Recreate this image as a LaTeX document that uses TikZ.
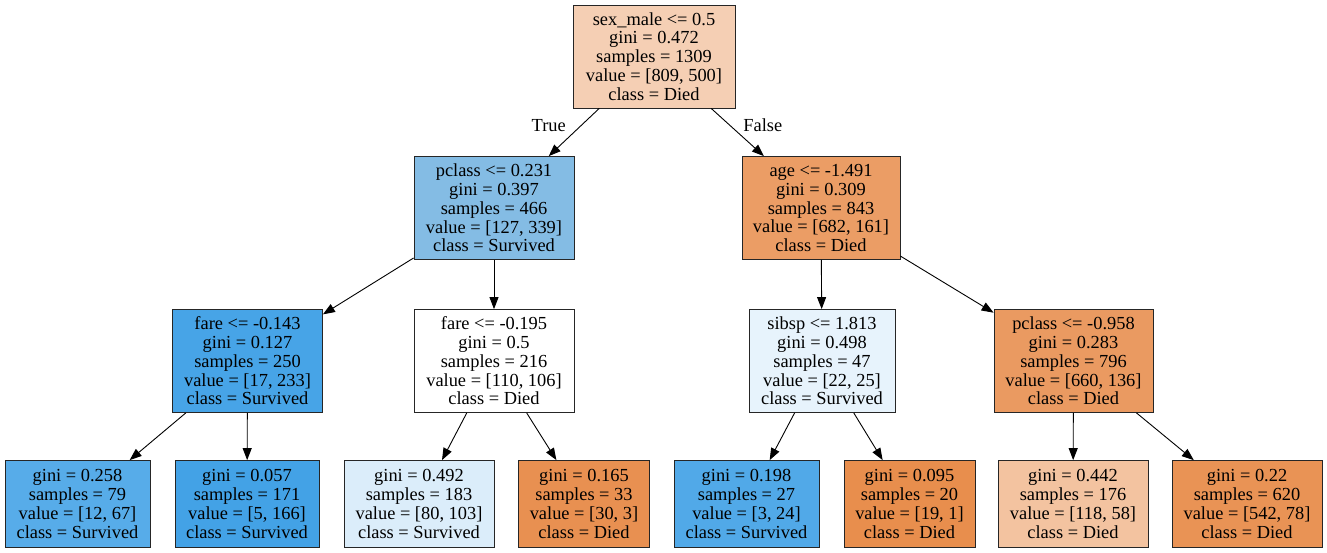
\documentclass[tikz,border=0pt]{standalone}
\usepackage{fontspec}
\setmainfont{Liberation Serif}
\usetikzlibrary{arrows.meta}

\definecolor{died}{RGB}{229,129,57}
\definecolor{surv}{RGB}{57,157,229}

\begin{document}
\begin{tikzpicture}[
    x=1pt, y=-1pt,
    split/.style={rectangle, draw=black!85, line width=0.8pt, align=center, minimum height=103pt, inner ysep=0pt, font=\fontsize{18.4}{18.8}\selectfont},
    leaf/.style={split, minimum height=87pt},
    arrow/.style={line width=0.9pt, -{Triangle[length=12pt,width=9pt]}},
    edgelabel/.style={font=\fontsize{18.4}{18.8}\selectfont}
]
\path[fill=white, use as bounding box] (0,0) rectangle (1327,552);

% Root
\node[split, fill=died!38, minimum width=162pt] (root) at (654,56.5) {sex\_male <= 0.5\\gini = 0.472\\samples = 1309\\value = [809, 500]\\class = Died};

% Second level
\node[split, fill=surv!62!white!90!gray, minimum width=160pt] (pclass_a) at (494,208) {pclass <= 0.231\\gini = 0.397\\samples = 466\\value = [127, 339]\\class = Survived};
\node[split, fill=died!78, minimum width=158pt] (age) at (821,208) {age <= -1.491\\gini = 0.309\\samples = 843\\value = [682, 161]\\class = Died};

% Third level
\node[split, fill=surv!93, minimum width=150pt] (fare_a) at (247.5,361) {fare <= -0.143\\gini = 0.127\\samples = 250\\value = [17, 233]\\class = Survived};
\node[split, fill=white, minimum width=160pt] (fare_b) at (494,361) {fare <= -0.195\\gini = 0.5\\samples = 216\\value = [110, 106]\\class = Died};
\node[split, fill=surv!12, minimum width=146pt] (sibsp) at (822,361) {sibsp <= 1.813\\gini = 0.498\\samples = 47\\value = [22, 25]\\class = Survived};
\node[split, fill=died!80, minimum width=159pt] (pclass_b) at (1073.5,361) {pclass <= -0.958\\gini = 0.283\\samples = 796\\value = [660, 136]\\class = Died};

% Leaves
\node[leaf, fill=surv!85, minimum width=145pt] (leaf_a) at (77.5,504) {gini = 0.258\\samples = 79\\value = [12, 67]\\class = Survived};
\node[leaf, fill=surv!95, minimum width=144pt] (leaf_b) at (247,504) {gini = 0.057\\samples = 171\\value = [5, 166]\\class = Survived};
\node[leaf, fill=surv!18, minimum width=150pt] (leaf_c) at (419,504) {gini = 0.492\\samples = 183\\value = [80, 103]\\class = Survived};
\node[leaf, fill=died!88, minimum width=131pt] (leaf_d) at (584,504) {gini = 0.165\\samples = 33\\value = [30, 3]\\class = Died};
\node[leaf, fill=surv!88, minimum width=145pt] (leaf_e) at (746.5,504) {gini = 0.198\\samples = 27\\value = [3, 24]\\class = Survived};
\node[leaf, fill=died!90, minimum width=131pt] (leaf_f) at (909.5,504) {gini = 0.095\\samples = 20\\value = [19, 1]\\class = Died};
\node[leaf, fill=died!48, minimum width=150pt] (leaf_g) at (1073,504) {gini = 0.442\\samples = 176\\value = [118, 58]\\class = Died};
\node[leaf, fill=died!86, minimum width=150pt] (leaf_h) at (1247,504) {gini = 0.22\\samples = 620\\value = [542, 78]\\class = Died};

% Arrows
\draw[arrow] (root) -- (pclass_a) node[edgelabel, pos=0.35, left=12pt] {True};
\draw[arrow] (root) -- (age) node[edgelabel, pos=0.35, right=10pt] {False};
\draw[arrow] (pclass_a) -- (fare_a);
\draw[arrow] (pclass_a) -- (fare_b);
\draw[arrow] (age) -- (sibsp);
\draw[arrow] (age) -- (pclass_b);
\draw[arrow] (fare_a) -- (leaf_a);
\draw[arrow] (fare_a) -- (leaf_b);
\draw[arrow] (fare_b) -- (leaf_c);
\draw[arrow] (fare_b) -- (leaf_d);
\draw[arrow] (sibsp) -- (leaf_e);
\draw[arrow] (sibsp) -- (leaf_f);
\draw[arrow] (pclass_b) -- (leaf_g);
\draw[arrow] (pclass_b) -- (leaf_h);

\end{tikzpicture}
\end{document}
